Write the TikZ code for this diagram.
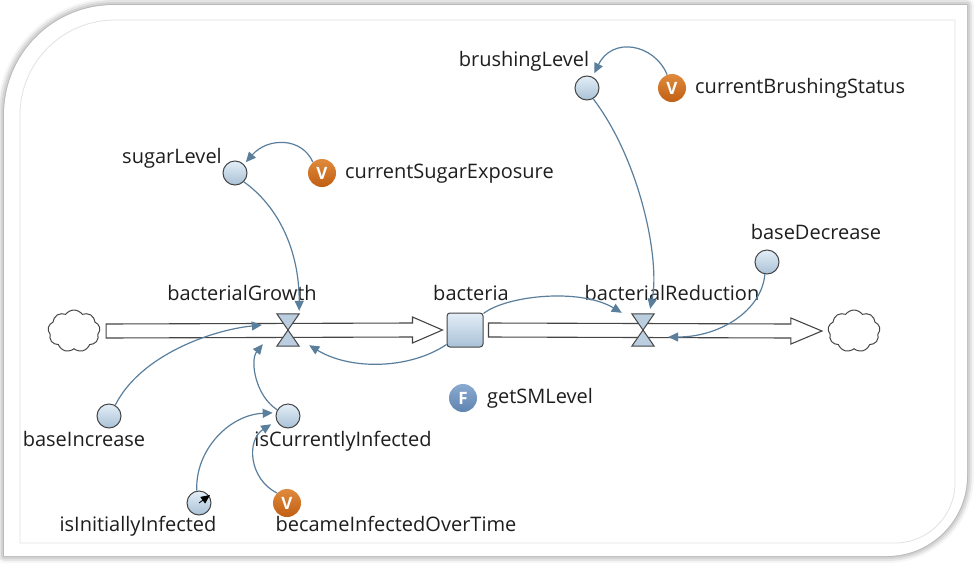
\documentclass[tikz,border=0pt]{standalone}
\usepackage{fontspec}
\setmainfont{Open Sans}
\usetikzlibrary{arrows.meta,shapes.symbols,shadows.blur,calc}
\definecolor{linkc}{HTML}{5A7F9C}
\definecolor{edgec}{HTML}{454545}
\definecolor{auxtop}{HTML}{E3EEF7}
\definecolor{auxbot}{HTML}{A9C1D6}
\definecolor{vtop}{HTML}{E08A3C}
\definecolor{vbot}{HTML}{C05F14}
\definecolor{ftop}{HTML}{8AAAD0}
\definecolor{fbot}{HTML}{5F84B0}
\definecolor{txtc}{HTML}{1E1E1E}
\definecolor{framec}{HTML}{E2E2E2}
\begin{document}
\begin{tikzpicture}[x=1pt,y=-1pt,
  aux/.style={circle,draw=edgec,line width=1pt,minimum size=24pt,inner sep=0pt,top color=auxtop,bottom color=auxbot},
  vicon/.style={circle,minimum size=28pt,inner sep=0pt,top color=vtop,bottom color=vbot,text=white,font=\bfseries\fontsize{17}{17}\selectfont},
  ficon/.style={circle,minimum size=28pt,inner sep=0pt,top color=ftop,bottom color=fbot,text=white,font=\bfseries\fontsize{17}{17}\selectfont},
  stockbox/.style={rectangle,rounded corners=3pt,draw=edgec,line width=1pt,minimum width=36pt,minimum height=34pt,inner sep=0pt,top color=auxtop,bottom color=auxbot},
  valvebox/.style={rectangle,minimum width=22pt,minimum height=32pt,inner sep=0pt},
  valvetri/.style={draw=edgec,line width=1pt,fill=auxbot!70!auxtop,line join=miter},
  cloudy/.style={cloud,cloud puffs=9,cloud puff arc=110,aspect=1.3,draw=edgec,line width=1pt,fill=white,minimum width=52pt,minimum height=42pt,inner sep=0pt},
  pipe/.style={draw=edgec,line width=1.1pt,fill=white,line join=miter},
  lbl/.style={inner sep=0pt,yshift=-2pt,text=txtc,text height=14pt,text depth=4.5pt,font=\fontsize{20}{22}\selectfont},
  link/.style={draw=linkc,line width=1.2pt,-{Triangle[length=10pt,width=9pt]}},
]
\useasboundingbox (0,0) rectangle (975,563);
% card
\path[fill=white,blur shadow={shadow xshift=0pt,shadow yshift=0pt,shadow blur radius=7pt,shadow opacity=55}]
  (4,556) -- (4,115) .. controls (4,54) and (53,5) .. (114,5) -- (967,5) -- (967,476) .. controls (967,520) and (931,556) .. (887,556) -- cycle;
\draw[framec,line width=0.8pt]
  (20,543) -- (20,115) .. controls (20,62.5) and (62.5,20) .. (115,20) -- (955,20) -- (955,483) .. controls (955,516) and (928,543) .. (895,543) -- cycle;

% clouds, stock, valves
\node[cloudy] (cloudL) at (74,331) {};
\node[cloudy] (cloudR) at (854,331) {};
\node[stockbox] (bacteria) at (465,330) {};
\node[valvebox] (vg) at (288,330) {};
\node[valvebox] (vr) at (643,330) {};

% pipes
\draw[pipe] ($(cloudL.east)+(6,-7)$) -- ($(bacteria.west)+(-34,-7)$) -- ($(bacteria.west)+(-34,-13)$) -- ($(bacteria.west)+(-4,0)$) -- ($(bacteria.west)+(-34,13)$) -- ($(bacteria.west)+(-34,7)$) -- ($(cloudL.east)+(6,7)$) -- cycle;
\draw[pipe] ($(bacteria.east)+(5,-7)$) -- ($(cloudR.west)+(-37,-7)$) -- ($(cloudR.west)+(-37,-13)$) -- ($(cloudR.west)+(-6,0)$) -- ($(cloudR.west)+(-37,13)$) -- ($(cloudR.west)+(-37,7)$) -- ($(bacteria.east)+(5,7)$) -- cycle;

% valve glyphs
\foreach \v in {vg,vr}{
  \filldraw[valvetri] (\v.north west) -- (\v.north east) -- (\v.center) -- cycle;
  \filldraw[valvetri] (\v.south west) -- (\v.south east) -- (\v.center) -- cycle;
}

% auxiliaries and icons
\node[aux] (sugarLevel) at (235,173) {};
\node[vicon] (cse) at (322,173) {V};
\node[aux] (brushingLevel) at (587,88) {};
\node[vicon] (cbs) at (672,88) {V};
\node[aux] (baseDecrease) at (767,262) {};
\node[aux] (baseIncrease) at (109,416) {};
\node[aux] (icI) at (288,416) {};
\node[aux] (iII) at (199,503) {};
\node[vicon] (biot) at (287,503) {V};
\node[ficon] (gsm) at (463,398) {F};

% labels
\node[lbl] (lGrowth) at (242,294) {bacterialGrowth};
\node[lbl] (lBacteria) at (471,294) {bacteria};
\node[lbl] (lReduction) at (672,294) {bacterialReduction};
\node[lbl] (lBaseDec) at (816,233) {baseDecrease};
\node[lbl] (lBrushing) at (524,60) {brushingLevel};
\node[lbl,anchor=west] (lCBS) at (695,87) {currentBrushingStatus};
\node[lbl] (lSugar) at (172,157) {sugarLevel};
\node[lbl,anchor=west] (lCSE) at (345,172) {currentSugarExposure};
\node[lbl,anchor=west] (lGSM) at (487,397) {getSMLevel};
\node[lbl] (lBaseInc) at (84,440) {baseIncrease};
\node[lbl] (lICI) at (343,440) {isCurrentlyInfected};
\node[lbl] (lIII) at (138,525) {isInitiallyInfected};
\node[lbl] (lBIOT) at (396,525) {becameInfectedOverTime};

% links
\draw[link] (cse.130) .. controls +(-11,-25) and +(22,-25) .. ($(sugarLevel.45)+(2,-2)$);
\draw[link] (sugarLevel.-45) .. controls +(35,25) and +(0,-60) .. ($(vg.north east)+(0,-3)$);
\draw[link] ($(bacteria.south west)+(0,-3)$) .. controls +(-37,25) and +(41,25) .. ($(vg.south east)+(10,-1)$);
\draw[link] (baseIncrease.60) .. controls +(25,-50) and +(-50,5) .. ($(vg.west)+(-15,-5)$);
\draw[link] (icI.150) .. controls +(-22,-14) and +(-13,16) .. ($(vg.south west)+(-14,-2)$);
\draw[link] (iII.100) .. controls +(-2,-40) and +(-44,2) .. ($(icI.170)+(-3,-1)$);
\draw[link] (biot.135) .. controls +(-28,-14) and +(-25,16) .. ($(icI.210)+(-6,2)$);
\draw[link] ($(bacteria.north east)+(0,1)$) .. controls +(23,-18) and +(-42,-25) .. ($(vr.north west)+(-10,-1)$);
\draw[link] (brushingLevel.-60) .. controls +(47,62) and +(10,-49) .. ($(vr.north east)+(-4,-5)$);
\draw[link] (baseDecrease.-100) .. controls +(-3,36) and +(52,0) .. ($(vr.east)+(14,7)$);
\draw[link] (cbs.110) .. controls +(-13,-31) and +(18,-37) .. ($(brushingLevel.70)+(3,-3)$);
% pointer on isInitiallyInfected
\draw[black,line width=0.8pt,-{Triangle[length=9pt,width=8pt]}] (iII.center) -- ($(iII.center)+(11,-8)$);
\end{tikzpicture}
\end{document}
